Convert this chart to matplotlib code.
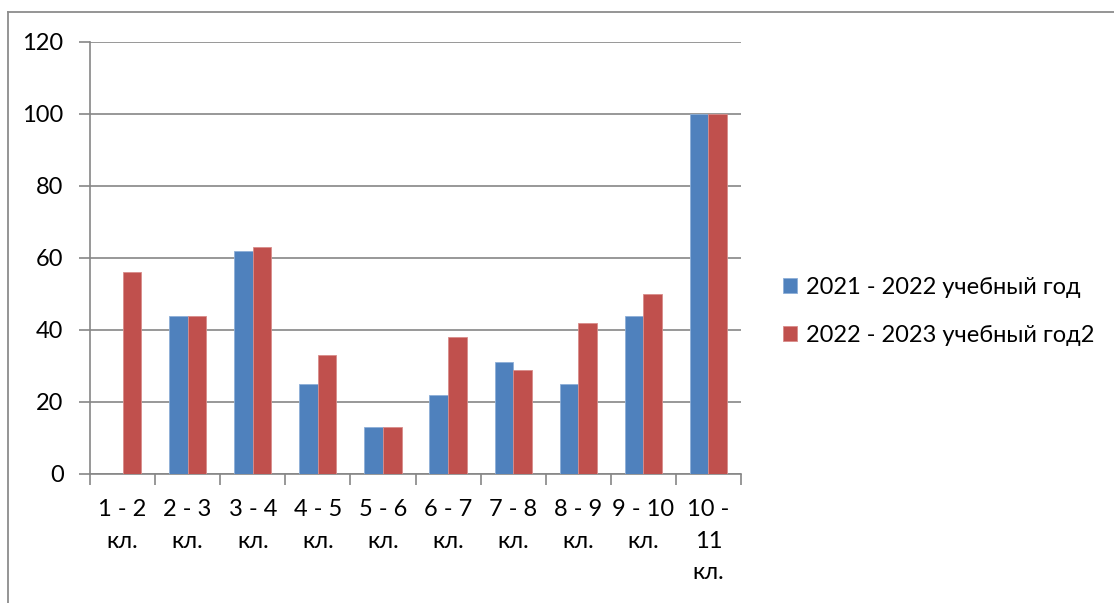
import numpy as np
import matplotlib.pyplot as plt
from matplotlib.lines import Line2D

plt.rcParams['font.family'] = ['Lato', 'DejaVu Sans']

categories = ['1 - 2\nкл.', '2 - 3\nкл.', '3 - 4\nкл.', '4 - 5\nкл.', '5 - 6\nкл.',
              '6 - 7\nкл.', '7 - 8\nкл.', '8 - 9\nкл.', '9 - 10\nкл.', '10 -\n11\nкл.']
year_2021 = [0, 44, 62, 25, 13, 22, 31, 25, 44, 100]
year_2022 = [56, 44, 63, 33, 13, 38, 29, 42, 50, 100]
series_names = ['2021 - 2022 учебный год', '2022 - 2023 учебный год2']

W, H = 1114, 603
fig = plt.figure(figsize=(W / 100, H / 100), dpi=100)
ax = fig.add_axes([90 / W, 1 - 474 / H, (741 - 90) / W, (474 - 42) / H])

grid_col = '#868686'
fs = 17
x = np.arange(len(categories))
w = 1 / 3.5
ax.bar(x - w / 2, year_2021, w, color='#4F81BD', edgecolor='#8DAFD8', linewidth=0.6,
       label=series_names[0], zorder=3)
ax.bar(x + w / 2, year_2022, w, color='#C0504D', edgecolor='#D98C8A', linewidth=0.6,
       label=series_names[1], zorder=3)

ax.set_xlim(-0.5, len(categories) - 0.5)
ax.set_ylim(0, 120)
ax.set_yticks(range(0, 121, 20))
ax.yaxis.grid(True, color=grid_col, linewidth=1.2, zorder=0)
ax.set_axisbelow(True)

ax.set_xticks(x)
ax.set_xticklabels(categories, fontsize=fs, linespacing=1.63, va='top')
ax.set_xticks(np.arange(-0.5, len(categories), 1), minor=True)
ax.tick_params(axis='x', which='major', length=0, pad=18)
ax.tick_params(axis='x', which='minor', length=8, width=1.2, color=grid_col, direction='out')
ax.tick_params(axis='y', length=8, width=1.2, color=grid_col, labelsize=fs, pad=11)

for side in ['top', 'right']:
    ax.spines[side].set_visible(False)
for side in ['left', 'bottom']:
    ax.spines[side].set_color(grid_col)
    ax.spines[side].set_linewidth(1.2)

ax.legend(loc='upper left', bbox_to_anchor=(771 / W, 1 - 265 / H), bbox_transform=fig.transFigure,
          frameon=False, fontsize=fs, handlelength=0.6, handleheight=0.6, handletextpad=0.4,
          labelspacing=1.15, borderpad=0)

# outer chart border (top and left visible)
fig.add_artist(Line2D([8 / W, 1], [1 - 12 / H, 1 - 12 / H], transform=fig.transFigure,
                      color='#8C8C8C', linewidth=1.3))
fig.add_artist(Line2D([8 / W, 8 / W], [0, 1 - 12 / H], transform=fig.transFigure,
                      color='#8C8C8C', linewidth=1.3))

fig.savefig('out.png', dpi=100)
